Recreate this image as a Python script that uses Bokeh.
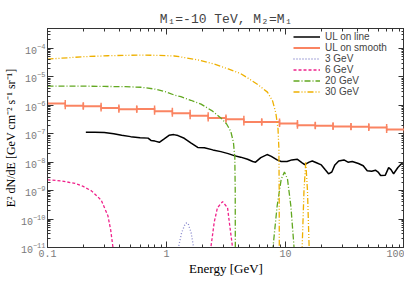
import numpy as np
from bokeh.plotting import figure
from bokeh.models import (LogAxis, LogTicker, CustomJSTickFormatter, Legend,
                          LegendItem)
from bokeh.embed import file_html
from bokeh.resources import INLINE

# ---------------- data ----------------
title_text = "M\u2081=-10 TeV, M\u2082=M\u2081"

# UL on line (black)
ul_line_x = [0.21, 0.25, 0.30, 0.36, 0.42, 0.50, 0.60, 0.70, 0.74, 0.80, 0.87,
             0.95, 1.05, 1.15, 1.25, 1.41, 1.60, 1.83, 2.08, 2.45, 2.86, 3.3,
             3.7, 4.2, 4.8, 5.3, 5.6, 6.2, 7.0, 7.6, 8.5, 9.2, 10.3, 11.3,
             12.6, 13.8, 14.5, 15.8, 16.8, 18.2, 20.0, 21.5, 23.0, 24.5,
             26.0, 28.0, 31.0, 33.5, 36.4, 41.0, 45.0, 48.6, 53.0, 57.0,
             60.0, 63.0, 69.0, 73.6, 77.0, 81.0, 88.0, 95.6, 100.0]
ul_line_y = [1.12e-7, 1.12e-7, 1.1e-7, 1.0e-7, 8.9e-8, 7.9e-8, 7.2e-8, 7.0e-8,
             5.8e-8, 5.5e-8, 5.0e-8, 6.5e-8, 8.8e-8, 9.3e-8, 8.6e-8, 6.9e-8,
             4.8e-8, 3.3e-8, 3.2e-8, 2.7e-8, 2.35e-8, 2.0e-8, 1.7e-8, 1.5e-8,
             1.26e-8, 1.05e-8, 1.0e-8, 1.45e-8, 1.85e-8, 1.6e-8, 1.2e-8,
             1.05e-8, 1.05e-8, 1.2e-8, 1.26e-8, 9.5e-9, 8.2e-9, 1.0e-8,
             1.1e-8, 9.5e-9, 8.0e-9, 5.5e-9, 3.9e-9, 4.5e-9, 8.0e-9, 1.1e-8,
             1.2e-8, 1.0e-8, 1.05e-8, 9.0e-9, 7.5e-9, 5.0e-9, 4.8e-9, 5.2e-9,
             4.5e-9, 3.4e-9, 3.5e-9, 6.4e-9, 5.5e-9, 3.9e-9, 6.5e-9, 9.3e-9,
             8.0e-9]

# UL on smooth (binned)
smooth_lo = [0.1, 0.141, 0.2, 0.282, 0.398, 0.562, 0.794, 1.12, 1.58, 2.24,
             3.16, 4.47, 6.31, 8.91, 12.6, 17.8, 25.1, 35.5, 50.1, 70.8]
smooth_hi = [0.141, 0.2, 0.282, 0.398, 0.562, 0.794, 1.12, 1.58, 2.24, 3.16,
             4.47, 6.31, 8.91, 12.6, 17.8, 25.1, 35.5, 50.1, 70.8, 100.0]
smooth_y = [1.15e-6, 9.6e-7, 9.2e-7, 8.0e-7, 7.2e-7, 7.4e-7, 6.2e-7, 5.2e-7,
            4.25e-7, 3.6e-7, 3.2e-7, 2.6e-7, 2.6e-7, 2.3e-7, 2.0e-7, 1.9e-7,
            1.8e-7, 1.75e-7, 1.65e-7, 1.4e-7]

# 3 GeV
m3_x = [1.2, 1.26, 1.34, 1.44, 1.48, 1.52, 1.61, 1.69, 1.75]
m3_y = [1e-14, 1e-11, 3.3e-11, 7.0e-11, 7.3e-11, 7.0e-11, 3.3e-11, 1e-11, 1e-14]

# 6 GeV
m6_x = [0.1, 0.13, 0.17, 0.2, 0.234, 0.26, 0.283, 0.30, 0.322, 0.34, 0.355,
        0.37, 2.3, 2.36, 2.52, 2.68, 2.96, 3.26, 3.37, 3.59, 3.65]
m6_y = [2.4e-9, 2.2e-9, 1.8e-9, 1.4e-9, 9.8e-10, 6.5e-10, 4.6e-10, 2.6e-10,
        1.3e-10, 4e-11, 1e-11, 1e-14, 1e-14, 1e-11, 7.9e-11, 2.5e-10,
        4.1e-10, 2.5e-10, 7.9e-11, 1e-11, 1e-14]

# 20 GeV
m20_x = [0.1, 0.2, 0.3, 0.45, 0.61, 0.8, 1.0, 1.16, 1.32, 1.6, 1.95, 2.4,
         2.86, 3.2, 3.47, 3.65, 3.75, 3.78, 3.80, 7.7, 7.85, 8.5, 9.2, 9.8,
         10.4, 11.1, 11.8, 12.0]
m20_y = [4.7e-6, 4.7e-6, 4.6e-6, 4.5e-6, 4.3e-6, 3.7e-6, 2.9e-6, 2.3e-6,
         2.0e-6, 1.5e-6, 1.1e-6, 6.5e-7, 3.6e-7, 2.2e-7, 1.2e-7, 5e-8,
         1.5e-8, 1e-9, 1e-14, 1e-14, 1e-11, 2.8e-10, 2.5e-9, 4.5e-9,
         2.5e-9, 2.8e-10, 1e-11, 1e-14]

# 30 GeV
m30_x = [0.1, 0.15, 0.2, 0.32, 0.45, 0.61, 0.85, 1.16, 1.32, 1.8, 2.52, 3.3,
         4.2, 4.8, 5.8, 7.05, 7.8, 8.3, 8.65, 8.8, 8.85, 8.9, 13.7, 13.8,
         14.3, 14.8, 15.3, 15.8, 15.9]
m30_y = [4.2e-5, 4.7e-5, 5.1e-5, 5.5e-5, 5.7e-5, 5.8e-5, 5.7e-5, 5.4e-5,
         5.0e-5, 4.0e-5, 2.8e-5, 1.9e-5, 1.3e-5, 9.2e-6, 5.5e-6, 2.9e-6,
         1.4e-6, 5.2e-7, 1.5e-7, 3e-8, 1e-9, 1e-14, 1e-14, 1e-11, 1e-9,
         1.0e-8, 1e-9, 1e-11, 1e-14]

labels = ["UL on line", "UL on smooth", "3 GeV", "6 GeV", "20 GeV", "30 GeV"]

# ---------------- figure ----------------
MONO = "Liberation Mono"
SERIF = "Liberation Serif"
SANS = "Liberation Sans"
TICKC = "#7a7a7a"
FRAMEC = "#333333"

p = figure(width=404, height=278, x_axis_type="log", y_axis_type="log",
           x_range=(0.1, 100), y_range=(1e-11, 5e-4),
           output_backend="svg", toolbar_location=None,
           min_border_left=46, min_border_right=0, min_border_top=28,
           min_border_bottom=0)
p.title.text = title_text
p.title.align = "center"
p.title.text_font = MONO
p.title.text_font_size = "13px"
p.title.text_font_style = "normal"
p.title.text_color = "#444444"
p.title.standoff = 3
p.grid.visible = False
p.outline_line_color = FRAMEC
p.background_fill_color = "white"
p.border_fill_color = "white"

def style_axis(ax):
    ax.major_tick_in = 6
    ax.major_tick_out = 0
    ax.minor_tick_in = 3
    ax.minor_tick_out = 0
    ax.axis_line_color = FRAMEC
    ax.major_tick_line_color = FRAMEC
    ax.minor_tick_line_color = FRAMEC
    ax.major_label_text_font = MONO
    ax.major_label_text_font_size = "10px"
    ax.major_label_text_color = TICKC
    ax.axis_label_text_font = SERIF
    ax.axis_label_text_font_size = "13px"
    ax.axis_label_text_font_style = "normal"
    ax.axis_label_text_color = "black"

xa = p.xaxis[0]
style_axis(xa)
xa.formatter = CustomJSTickFormatter(
    code="return tick >= 1 ? tick.toFixed(0) : tick.toFixed(1);")
xa.ticker = LogTicker(desired_num_ticks=4, num_minor_ticks=10)
xa.axis_label = "Energy [GeV]"
xa.major_label_standoff = 2
xa.axis_label_standoff = 1

ya = p.yaxis[0]
style_axis(ya)
ya.ticker = LogTicker(desired_num_ticks=9, num_minor_ticks=10)
ya.axis_label = "E\u00b2 dN/dE [GeV cm\u207b\u00b2 s\u207b\u00b9 sr\u207b\u00b9]"
ya.axis_label_text_font_size = "12px"
ya.major_label_standoff = 2
ya.axis_label_standoff = 0

top = LogAxis(ticker=LogTicker(desired_num_ticks=4, num_minor_ticks=10))
style_axis(top)
top.formatter = CustomJSTickFormatter(code="return '';")
top.major_label_text_font_size = "1px"
top.major_label_text_alpha = 0
top.major_label_standoff = 0
top.axis_label_standoff = 0
p.add_layout(top, "above")

right = LogAxis(ticker=LogTicker(desired_num_ticks=9, num_minor_ticks=10))
style_axis(right)
right.formatter = CustomJSTickFormatter(code="return '';")
right.major_label_text_font_size = "1px"
right.major_label_text_alpha = 0
right.major_label_standoff = 0
right.axis_label_standoff = 0
p.add_layout(right, "right")

# ---------------- glyphs ----------------
SALMON = "#fa8462"
r_line = p.line(ul_line_x, ul_line_y, line_color="black", line_width=1.5)

r_smooth = p.segment(x0=smooth_lo, y0=smooth_y, x1=smooth_hi, y1=smooth_y,
                     line_color=SALMON, line_width=2)
p.scatter(x=smooth_lo + smooth_hi, y=smooth_y + smooth_y, marker="dash",
          angle=np.pi / 2, size=7, line_color=SALMON, line_width=1.5)

r3 = p.line(m3_x, m3_y, line_color="#8888cc", line_width=1.3, line_dash="1 2")
r6 = p.line(m6_x, m6_y, line_color="#f0208a", line_width=1.3, line_dash="3 2")
r20 = p.line(m20_x, m20_y, line_color="#62a820", line_width=1.3,
             line_dash="6 2 1 2")
r30 = p.line(m30_x, m30_y, line_color="#eeb000", line_width=1.3,
             line_dash="6 2 1 2 1 2")

legend = Legend(items=[LegendItem(label=l, renderers=[r])
                       for l, r in zip(labels, [r_line, r_smooth, r3, r6, r20, r30])],
                location="top_right", margin=0, padding=3, spacing=0,
                label_height=9, glyph_height=9, glyph_width=27,
                label_standoff=5, label_width=76,
                label_text_font=SANS, label_text_font_size="10px",
                background_fill_alpha=0, border_line_alpha=0)
p.add_layout(legend)

open("out.html", "w").write(file_html(p, INLINE))
